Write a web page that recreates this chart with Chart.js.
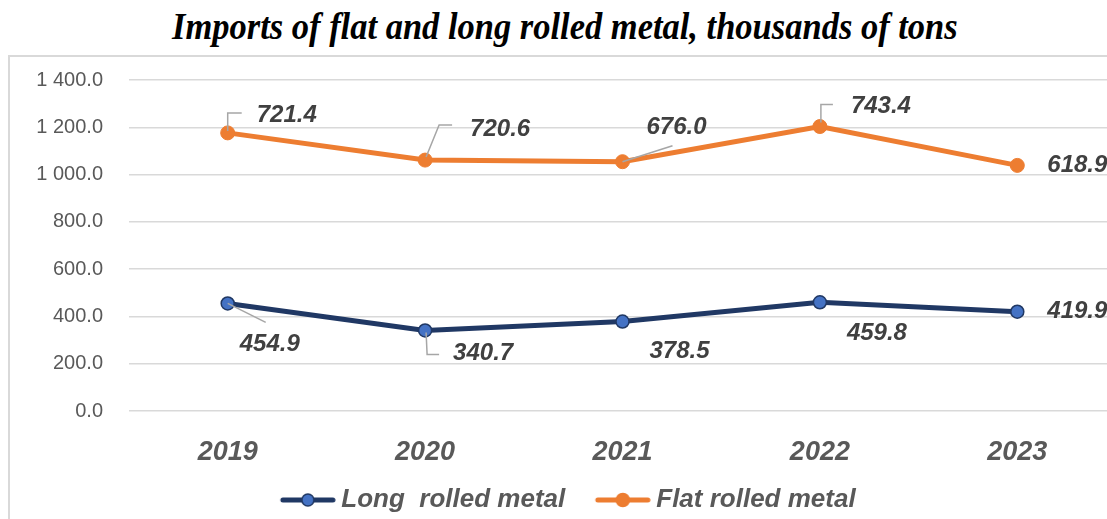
<!DOCTYPE html>
<html>
<head>
<meta charset="utf-8">
<script src="https://cdn.jsdelivr.net/npm/chart.js@4/dist/chart.umd.min.js"></script>
<style>
  html, body { margin: 0; padding: 0; width: 1107px; height: 519px; overflow: hidden; background: #fff; }
  #title {
    position: absolute; left: 0; top: 4px; width: 1130px; text-align: center;
    font-family: "Liberation Serif", serif; font-weight: bold; font-style: italic;
    font-size: 38px; color: #000; white-space: nowrap;
  }
  #title span { display: inline-block; transform-origin: center; }
  #frame { position: absolute; left: 8px; top: 55px; width: 1200px; height: 600px; border: 2px solid #d9d9d9; }
  #chart { position: absolute; left: 0; top: 0; }
</style>
</head>
<body>
<div id="frame"></div>
<div id="title"><span>Imports of flat and long rolled metal, thousands of tons</span></div>
<canvas id="chart" width="1130" height="523"></canvas>
<script>
const years = ['2019', '2020', '2021', '2022', '2023'];
const longRolled = [454.9, 340.7, 378.5, 459.8, 419.9];
const flatRolled = [721.4, 720.6, 676.0, 743.4, 618.9];
const seriesNames = ['Long  rolled metal', 'Flat rolled metal'];
const yTicks = [0, 200, 400, 600, 800, 1000, 1200, 1400];

const navy = '#203864';
const blue = '#4472C4';
const orange = '#ED7D31';

// label placement per series: text offset from the point, optional leader line
const labelLayout = [
  {
    offsets: [[12, 41], [28, 23], [27, 30], [27, 31], [30, 0]],
    leaders: [[[0, 0], [38, 19]], [[1, 2], [2, 24], [14, 24]], null, null, null]
  },
  {
    offsets: [[29, -18], [45, -31], [24, -34], [31, -20], [30, 0]],
    leaders: [[[0, -2], [0, -20], [14, -20]], [[1, -3], [14, -35], [27, -35]],
              [[0, 0], [50, -16]], [[1, -4], [1, -22], [13, -22]], null]
  }
];

function fmt(v) {
  const [i, d] = v.toFixed(1).split('.');
  return i.replace(/\B(?=(\d{3})+(?!\d))/g, ' ') + '.' + d;
}

// legend swatch: line with a marker, sitting in the right part of the image
// so that it hugs the text and leaves a gap before it
const BOX = 68;
function legendMark(line, fill, stroke, r) {
  const c = document.createElement('canvas');
  c.width = BOX + 15; c.height = 16;
  const g = c.getContext('2d');
  const x0 = c.width - 56;
  g.strokeStyle = line; g.lineWidth = 5; g.lineCap = 'round';
  g.beginPath(); g.moveTo(x0 + 3, 8); g.lineTo(x0 + 53, 8); g.stroke();
  g.beginPath(); g.arc(x0 + 28, 8, r, 0, Math.PI * 2);
  g.fillStyle = fill; g.fill();
  g.lineWidth = 1.5; g.strokeStyle = stroke; g.stroke();
  return c;
}
const marks = [legendMark(navy, blue, navy, 6), legendMark(orange, orange, orange, 6.5)];

const pointLabels = {
  id: 'pointLabels',
  afterDatasetsDraw(chart) {
    const ctx = chart.ctx;
    ctx.save();
    ctx.font = 'italic bold 24px "Liberation Sans"';
    ctx.textBaseline = 'middle';
    ctx.textAlign = 'left';
    chart.data.datasets.forEach((ds, i) => {
      const lay = labelLayout[i];
      chart.getDatasetMeta(i).data.forEach((pt, j) => {
        const lead = lay.leaders[j];
        if (lead) {
          ctx.strokeStyle = '#a6a6a6';
          ctx.lineWidth = 1.5;
          ctx.beginPath();
          lead.forEach(([lx, ly], k) => {
            if (k === 0) ctx.moveTo(pt.x + lx, pt.y + ly);
            else ctx.lineTo(pt.x + lx, pt.y + ly);
          });
          ctx.stroke();
        }
        const [dx, dy] = lay.offsets[j];
        ctx.fillStyle = '#404040';
        ctx.fillText(fmt(ds.data[j]), pt.x + dx, pt.y + dy);
      });
    });
    ctx.restore();
  }
};

new Chart(document.getElementById('chart'), {
  type: 'line',
  data: {
    labels: years,
    datasets: [
      {
        label: seriesNames[0], data: longRolled,
        borderColor: navy, borderWidth: 5,
        pointRadius: 6.5, pointBackgroundColor: blue, pointBorderColor: navy, pointBorderWidth: 1.5
      },
      {
        label: seriesNames[1], data: flatRolled,
        borderColor: orange, borderWidth: 5,
        pointRadius: 7, pointBackgroundColor: orange, pointBorderColor: orange, pointBorderWidth: 1
      }
    ]
  },
  options: {
    responsive: false,
    animation: false,
    layout: { padding: { top: 80, right: 14, left: 0, bottom: 0 } },
    plugins: {
      tooltip: { enabled: false },
      legend: {
        position: 'bottom',
        labels: {
          usePointStyle: true,
          pointStyleWidth: BOX,
          padding: 10,
          font: { family: 'Liberation Sans', size: 26, style: 'italic', weight: 'bold' },
          generateLabels: (chart) => chart.data.datasets.map((ds, i) => ({
            text: ds.label, pointStyle: marks[i], fontColor: '#595959',
            hidden: false, datasetIndex: i, lineWidth: 0
          }))
        }
      }
    },
    scales: {
      x: {
        offset: true,
        grid: { display: false },
        border: { display: false },
        ticks: {
          padding: 17, color: '#595959',
          font: { family: 'Liberation Sans', size: 27, style: 'italic', weight: 'bold' }
        },
        afterFit: (s) => { s.height = 66; }
      },
      y: {
        stacked: true,
        min: 0, max: 1400,
        afterBuildTicks: (s) => { s.ticks = yTicks.map(v => ({ value: v })); },
        grid: { color: '#d9d9d9', lineWidth: 1.5, drawTicks: false },
        border: { display: false },
        ticks: {
          padding: 26, color: '#595959',
          font: { family: 'Liberation Sans', size: 20 },
          callback: (v) => fmt(v)
        },
        afterFit: (s) => { s.width = 129; }
      }
    }
  },
  plugins: [pointLabels]
});

const t = document.querySelector('#title span');
t.style.transform = 'scaleX(' + (786 / t.offsetWidth) + ')';
</script>
</body>
</html>
